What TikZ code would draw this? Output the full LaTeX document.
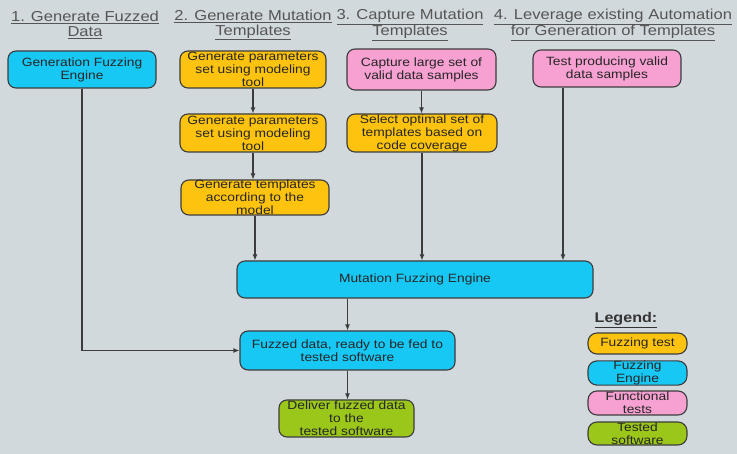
\documentclass[tikz,border=0pt]{standalone}
\usepackage{fontspec}
\setmainfont[FakeStretch=1.15]{Liberation Sans}
\usetikzlibrary{arrows.meta}

\definecolor{bggray}{HTML}{D2D9DD}
\definecolor{engblue}{HTML}{17C7F4}
\definecolor{fuzzyellow}{HTML}{FDC30F}
\definecolor{funcpink}{HTML}{F7A0D2}
\definecolor{swgreen}{HTML}{9BC61A}
\definecolor{linegray}{HTML}{3C3C3C}
\definecolor{headgray}{HTML}{555555}

\begin{document}
\begin{tikzpicture}[x=1pt,y=-1pt,
    box/.style={draw=linegray, line width=1.1pt, rounded corners=8pt, align=center,
        inner sep=0pt, text=black!85, font=\fontsize{12}{13}\selectfont},
    legbox/.style={box, rounded corners=9pt, minimum width=99pt},
    head/.style={align=center, inner sep=0pt, text=headgray, font=\fontsize{14.4}{15}\selectfont},
    flow/.style={draw=linegray, line width=1.1pt, -{Latex[length=6pt,width=5pt]}}]
    \fill[bggray] (0,0) rectangle (737,454);
    \useasboundingbox (0,0) rectangle (737,454);

    \node[head] (h1) at (85,25) {\underline{1. Generate Fuzzed}\\\underline{Data}};
    \node[head] (h2) at (253,25) {\underline{2. Generate Mutation}\\\underline{Templates}};
    \node[head] (h3) at (410,25) {\underline{3. Capture Mutation}\\\underline{Templates}};
    \node[head] (h4) at (613,25) {\underline{4. Leverage existing Automation}\\\underline{for Generation of Templates}};

    \node[box, fill=engblue, minimum width=148pt, minimum height=37pt] (gfe) at (82,69.5)
        {Generation Fuzzing\\Engine};
    \node[box, fill=fuzzyellow, minimum width=146pt, minimum height=37pt] (gp1) at (253,69.5)
        {Generate parameters\\set using modeling\\tool};
    \node[box, fill=fuzzyellow, minimum width=146pt, minimum height=38pt] (gp2) at (253,133)
        {Generate parameters\\set using modeling\\tool};
    \node[box, fill=fuzzyellow, minimum width=148pt, minimum height=35pt] (gt) at (255,197.5)
        {Generate templates\\according to the\\model};
    \node[box, fill=funcpink, minimum width=149pt, minimum height=41pt] (cap) at (421.5,69.5)
        {Capture large set of\\valid data samples};
    \node[box, fill=fuzzyellow, minimum width=150pt, minimum height=38pt] (sel) at (422,133)
        {Select optimal set of\\templates based on\\code coverage};
    \node[box, fill=funcpink, minimum width=148pt, minimum height=37pt] (tpv) at (607,68.5)
        {Test producing valid\\data samples};
    \node[box, fill=engblue, minimum width=356pt, minimum height=37pt] (mfe) at (415,279.5)
        {Mutation Fuzzing Engine};
    \node[box, fill=engblue, minimum width=215pt, minimum height=39pt] (fd) at (347.5,350.5)
        {Fuzzed data, ready to be fed to\\tested software};
    \node[box, fill=swgreen, minimum width=135pt, minimum height=37pt] (dl) at (346.5,418.5)
        {Deliver fuzzed data\\to the\\tested software};

    \node[inner sep=0pt, font=\fontsize{14}{15}\selectfont\bfseries, text=black!80] (leg) at (626,320)
        {\underline{Legend:}};
    \node[legbox, fill=fuzzyellow, minimum height=21pt] (l1) at (637.5,343.5) {Fuzzing test};
    \node[legbox, fill=engblue, minimum height=24pt] (l2) at (637.5,373) {Fuzzing\\Engine};
    \node[legbox, fill=funcpink, minimum height=24pt] (l3) at (637.5,403) {Functional\\tests};
    \node[legbox, fill=swgreen, minimum height=23pt] (l4) at (637.5,433.5) {Tested\\software};

    \draw[flow] (gp1) -- (gp2);
    \draw[flow] (gp2.south) -- (gp2.south |- gt.north);
    \draw[flow] (gt) -- (gt |- mfe.north);
    \draw[flow] (cap.south) -- (cap.south |- sel.north);
    \draw[flow] (sel) -- (sel |- mfe.north);
    \draw[flow] ([xshift=-44pt]tpv.south) -- ([xshift=-44pt]tpv.south |- mfe.north);
    \draw[flow] (fd.north |- mfe.south) -- (fd);
    \draw[flow] (fd.south) -- (fd.south |- dl.north);
    \draw[flow] (gfe) |- (fd);
\end{tikzpicture}
\end{document}
